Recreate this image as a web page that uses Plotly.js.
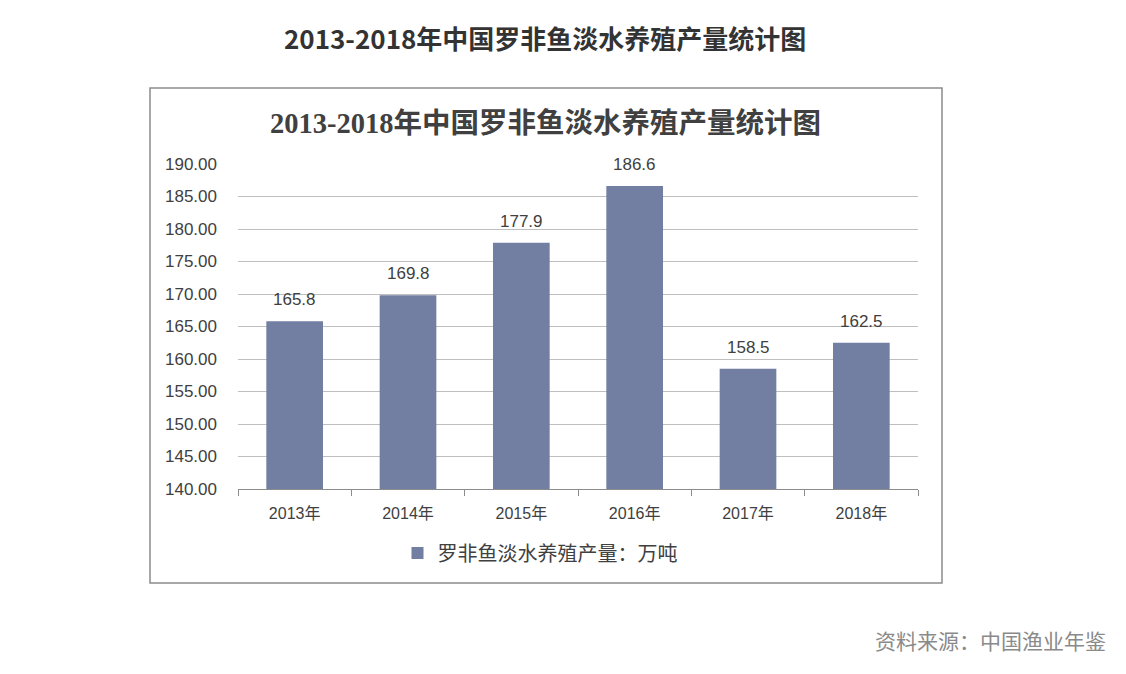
<!DOCTYPE html>
<html><head><meta charset="utf-8">
<script src="https://cdn.plot.ly/plotly-3.0.1.min.js"></script>
<style>html,body{margin:0;padding:0;background:#fff}#c{width:1126px;height:674px}</style>
</head><body><div id="c"></div>
<script>
const categories = ['2013年','2014年','2015年','2016年','2017年','2018年'];
const values = [165.8, 169.8, 177.9, 186.6, 158.5, 162.5];
const valueLabels = ['165.8','169.8','177.9','186.6','158.5','162.5'];
const seriesName = '罗非鱼淡水养殖产量：万吨';
const pageTitle = '2013-2018年中国罗非鱼淡水养殖产量统计图';
const sourceText = '资料来源：中国渔业年鉴';

const sans = 'Liberation Sans, Arial, Noto Sans CJK SC, sans-serif';
const ann = categories.map((c,i)=>({
  x:c, y:values[i], xref:'x', yref:'y', text:valueLabels[i], showarrow:false,
  yanchor:'bottom', yshift:10, font:{family:sans,size:17,color:'#404040'}
}));
ann.push({xref:'paper',yref:'paper',x:(545-238)/680,y:(489-38)/325,text:pageTitle,showarrow:false,
  xanchor:'center',yanchor:'middle',font:{family:'Noto Sans CJK SC, sans-serif',size:26,color:'#333',weight:700}});
ann.push({xref:'paper',yref:'paper',x:(545-238)/680,y:(489-123)/325,text:'<b>'+pageTitle+'</b>',showarrow:false,
  xanchor:'center',yanchor:'middle',font:{family:'Liberation Serif, Noto Sans CJK SC, serif',size:28.5,color:'#404040'}});
ann.push({xref:'paper',yref:'paper',x:(1108-238)/680,y:(489-640)/325,text:sourceText,showarrow:false,
  xanchor:'right',yanchor:'middle',font:{family:'Noto Sans CJK SC, sans-serif',size:21,color:'#8a8a8a'}});

Plotly.newPlot('c',[{
  type:'bar', x:categories, y:values, name:seriesName,
  marker:{color:'#727ea2'}, width:0.5, showlegend:true
}],{
  width:1126,height:674,
  margin:{l:238,r:208,t:164,b:185},
  paper_bgcolor:'#fff',plot_bgcolor:'#fff',
  xaxis:{type:'category',showline:true,linecolor:'#8c8c8c',linewidth:1,ticks:'outside',tickson:'boundaries',
    ticklen:6,tickcolor:'#8c8c8c',ticklabelstandoff:10,tickfont:{family:sans,size:16,color:'#404040'},showgrid:false},
  yaxis:{range:[140,190],dtick:5,tick0:140,tickformat:'.2f',showgrid:true,gridcolor:'#bfbfbf',gridwidth:1,
    zeroline:false,showline:false,ticks:'',ticklabelstandoff:20,tickfont:{family:sans,size:17,color:'#404040'}},
  showlegend:true,
  legend:{orientation:'h',x:(540-238)/680,xanchor:'center',y:(489-553)/325,yanchor:'middle',
    font:{family:'Noto Sans CJK SC, sans-serif',size:20,color:'#404040'},itemwidth:30},
  annotations:ann,
  shapes:[{type:'rect',xref:'paper',yref:'paper',x0:(150-238)/680,x1:(942-238)/680,y0:(489-583)/325,y1:(489-88)/325,
    line:{color:'#8c8c8c',width:1.5},fillcolor:'rgba(0,0,0,0)',layer:'below'}]
},{displayModeBar:false,staticPlot:true});
</script></body></html>
